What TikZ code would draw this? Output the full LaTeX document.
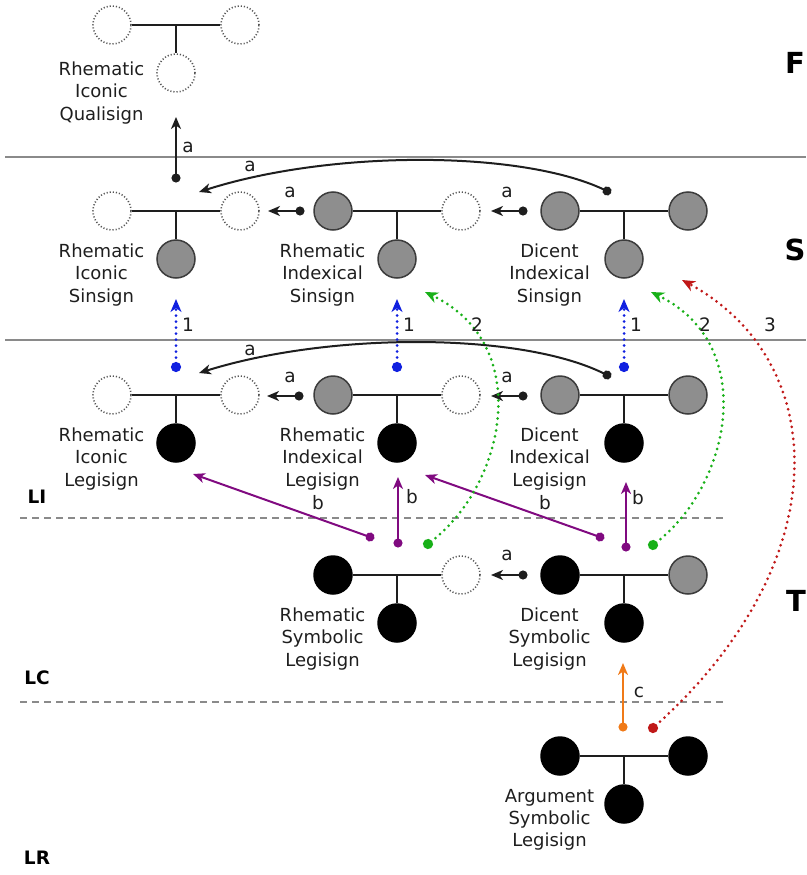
\documentclass[tikz,border=0pt]{standalone}
\usepackage{fontspec}
\setmainfont{DejaVu Sans}
\usetikzlibrary{arrows.meta}

\definecolor{ink}{HTML}{1E1E1E}
\definecolor{rimgray}{HTML}{3C3C3C}
\definecolor{midgray}{HTML}{8E8E8E}
\definecolor{dotgray}{HTML}{555555}
\definecolor{rulegray}{HTML}{8A8A8A}
\definecolor{cblue}{HTML}{1020E0}
\definecolor{cgreen}{HTML}{18B018}
\definecolor{cred}{HTML}{C01818}
\definecolor{cpurple}{HTML}{800A80}
\definecolor{corange}{HTML}{F07A18}

% three-circle sign: [caption drop], name, x, y, left style, right style, bottom style, caption
\newcommand\trisign[8][64]{%
  \node[#5] (#2-l) at ({#3-64},#4) {};
  \node[#6] (#2-r) at ({#3+64},#4) {};
  \node[#7] (#2-b) at (#3,{#4+48}) {};
  \coordinate (#2-j) at (#3,#4);
  \draw[stem] (#2-l) -- (#2-r);
  \draw[stem] (#2-j) -- (#2-b);
  \node[caption] (#2-t) at ({#3-74.5},{#4+#1}) {#8};
}

\begin{document}
\begin{tikzpicture}[x=1pt,y=-1pt,
  ring/.style={circle,minimum size=38pt,inner sep=0pt},
  hollow/.style={ring,fill=white,draw=dotgray,line width=1.6pt,dash pattern=on 1.1pt off 2pt},
  shaded/.style={ring,fill=midgray,draw=rimgray,line width=1.5pt},
  filled/.style={ring,fill=black,draw=black,line width=1.5pt},
  stem/.style={draw=ink,line width=2pt},
  caption/.style={align=center,text=ink,font=\fontsize{18}{22.2}\selectfont},
  tag/.style={text=ink,font=\fontsize{18.5}{20}\selectfont,inner sep=0pt},
  level/.style={text=black,font=\fontsize{18.5}{20}\selectfont\bfseries,inner sep=0pt},
  realm/.style={text=black,font=\fontsize{29}{30}\selectfont\bfseries,inner sep=0pt},
  solidrule/.style={draw=rulegray,line width=1.1pt},
  dashrule/.style={draw=rulegray,line width=1.5pt,dash pattern=on 7pt off 5pt},
  link/.style={line width=2pt,
    {Circle[length=9pt]}-{Stealth[length=12pt,width=10pt,inset=3.5pt]},
    shorten <=-4.5pt},
  dotlink/.style={line width=3pt,line cap=round,dash pattern=on 0pt off 6pt,
    {Circle[length=10pt]}-{Stealth[length=13pt,width=11pt,inset=4pt]},
    shorten <=-5pt},
]
\useasboundingbox (0,0) rectangle (806,875);

% horizontal rules between the realms and levels
\coordinate (r1a) at (5,157);   \coordinate (r1b) at (806,157);
\coordinate (r2a) at (5,340);   \coordinate (r2b) at (806,340);
\coordinate (d1a) at (20,518);  \coordinate (d1b) at (727,518);
\coordinate (d2a) at (20,702);  \coordinate (d2b) at (727,702);
\draw[solidrule] (r1a) -- (r1b);
\draw[solidrule] (r2a) -- (r2b);
\draw[dashrule] (d1a) -- (d1b);
\draw[dashrule] (d2a) -- (d2b);

% realm and level names
\node[realm] (F) at (795,63) {F};
\node[realm] (S) at (795,250) {S};
\node[realm] (T) at (796,601) {T};
\node[level] (LI) at (37,497) {LI};
\node[level] (LC) at (37,678) {LC};
\node[level] (LR) at (37,858) {LR};

% the ten signs
\trisign[68]{ricq}{176}{25}{hollow}{hollow}{hollow}{Rhematic\\Iconic\\Qualisign}
\trisign{rics}{176}{211}{hollow}{hollow}{shaded}{Rhematic\\Iconic\\Sinsign}
\trisign{rins}{397}{211}{shaded}{hollow}{shaded}{Rhematic\\Indexical\\Sinsign}
\trisign{dins}{624}{211}{shaded}{shaded}{shaded}{Dicent\\Indexical\\Sinsign}
\trisign{ricl}{176}{395}{hollow}{hollow}{filled}{Rhematic\\Iconic\\Legisign}
\trisign{rinl}{397}{395}{shaded}{hollow}{filled}{Rhematic\\Indexical\\Legisign}
\trisign{dinl}{624}{395}{shaded}{shaded}{filled}{Dicent\\Indexical\\Legisign}
\trisign{rsyl}{397}{575}{filled}{hollow}{filled}{Rhematic\\Symbolic\\Legisign}
\trisign{dsyl}{624}{575}{filled}{shaded}{filled}{Dicent\\Symbolic\\Legisign}
\trisign{asyl}{624}{756}{filled}{filled}{filled}{Argument\\Symbolic\\Legisign}

% end points of the connectors
\coordinate (fa0) at (176,178);  \coordinate (fa1) at (176,117);
\coordinate (sa0) at (607,191);  \coordinate (sa1) at (199,192);
\coordinate (la0) at (607,375);  \coordinate (la1) at (199,373);
\coordinate (s10) at (300,211);  \coordinate (s11) at (268,211);
\coordinate (s20) at (523,211);  \coordinate (s21) at (491,211);
\coordinate (l10) at (299,396);  \coordinate (l11) at (267,396);
\coordinate (l20) at (523,396);  \coordinate (l21) at (491,396);
\coordinate (t10) at (523,575);  \coordinate (t11) at (491,575);
\coordinate (u10) at (176,367);  \coordinate (u11) at (176,299);
\coordinate (u20) at (397,367);  \coordinate (u21) at (397,299);
\coordinate (u30) at (624,367);  \coordinate (u31) at (624,299);
\coordinate (g10) at (428,544);  \coordinate (g11) at (425,292);
\coordinate (g20) at (653,545);  \coordinate (g21) at (651,292);
\coordinate (h0)  at (653,728);  \coordinate (h1)  at (682,280);
\coordinate (p10) at (370,537);  \coordinate (p11) at (193,474);
\coordinate (p20) at (398,543);  \coordinate (p21) at (398,477);
\coordinate (p30) at (600,537);  \coordinate (p31) at (425,475);
\coordinate (p40) at (626,547);  \coordinate (p41) at (626,482);
\coordinate (c0)  at (623,727);  \coordinate (c1)  at (623,663);

% relation a
\draw[link,ink] (fa0) -- (fa1);
\draw[link,ink] (sa0) .. controls (520,150) and (330,150) .. (sa1);
\draw[link,ink] (la0) .. controls (520,332) and (330,332) .. (la1);
\draw[link,ink] (s10) -- (s11);
\draw[link,ink] (s20) -- (s21);
\draw[link,ink] (l10) -- (l11);
\draw[link,ink] (l20) -- (l21);
\draw[link,ink] (t10) -- (t11);
\node[tag] (fa) at (188,147) {a};
\node[tag] (sa) at (250,166) {a};
\node[tag] (la) at (250,350) {a};
\node[tag] (s1a) at (290,192) {a};
\node[tag] (s2a) at (507,192) {a};
\node[tag] (l1a) at (290,377) {a};
\node[tag] (l2a) at (507,377) {a};
\node[tag] (t1a) at (507,555) {a};

% relation b
\draw[link,cpurple] (p10) -- (p11);
\draw[link,cpurple] (p20) -- (p21);
\draw[link,cpurple] (p30) -- (p31);
\draw[link,cpurple] (p40) -- (p41);
\node[tag] (b1) at (318,503) {b};
\node[tag] (b2) at (412,497) {b};
\node[tag] (b3) at (545,503) {b};
\node[tag] (b4) at (638,498) {b};

% relation c
\draw[link,corange] (c0) -- (c1);
\node[tag] (cc) at (639,692) {c};

% dotted relations 1, 2 and 3
\draw[dotlink,cblue] (u10) -- (u11);
\draw[dotlink,cblue] (u20) -- (u21);
\draw[dotlink,cblue] (u30) -- (u31);
\draw[dotlink,cgreen] (g10) .. controls (505,485) and (535,345) .. (g11);
\draw[dotlink,cgreen] (g20) .. controls (730,486) and (760,345) .. (g21);
\draw[dotlink,cred] (h0) .. controls (840,560) and (830,360) .. (h1);
\node[tag] (n11) at (188,325) {1};
\node[tag] (n12) at (409,325) {1};
\node[tag] (n13) at (636,325) {1};
\node[tag] (n21) at (477,325) {2};
\node[tag] (n22) at (705,325) {2};
\node[tag] (n3)  at (770,325) {3};
\end{tikzpicture}
\end{document}
